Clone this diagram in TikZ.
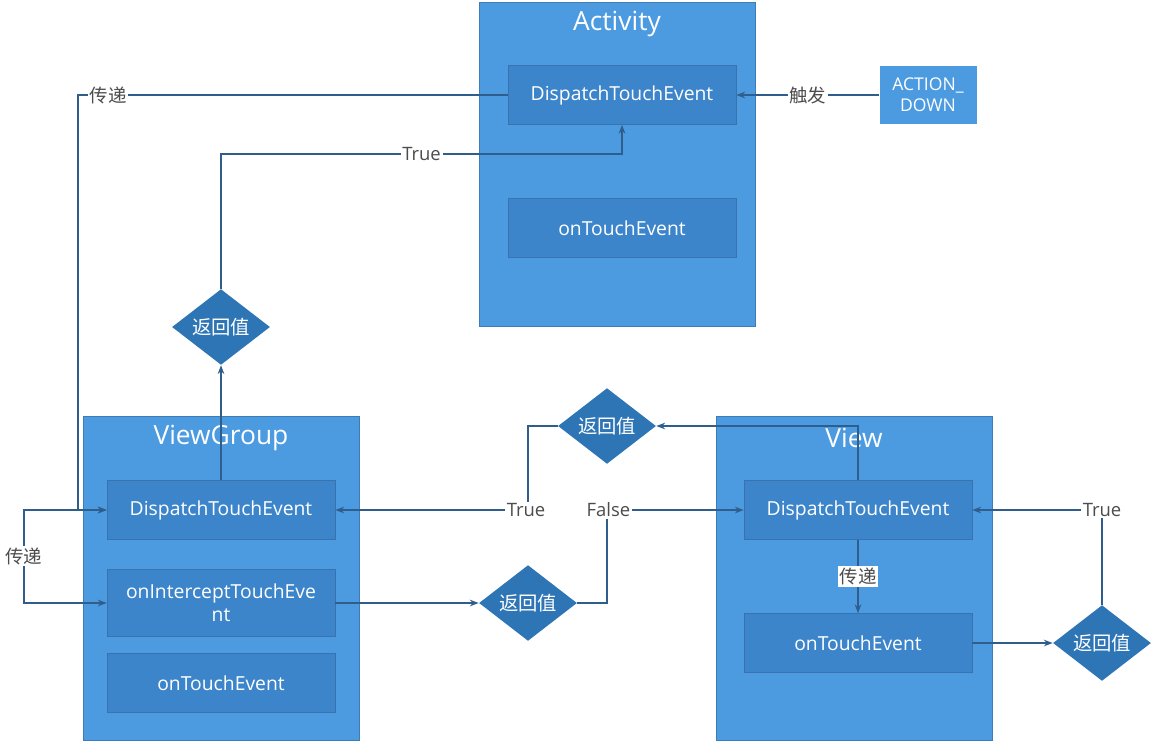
\documentclass[tikz,border=0pt]{standalone}
\usepackage{fontspec}
\setmainfont{Open Sans}
\newfontfamily\cjk{Noto Sans CJK SC}
\usetikzlibrary{shapes.geometric,arrows.meta}
\definecolor{outerblue}{HTML}{4C9BE1}
\definecolor{innerblue}{HTML}{3D85CB}
\definecolor{edgeblue}{HTML}{3A72AE}
\definecolor{linecol}{HTML}{2F5D8C}
\definecolor{diablue}{HTML}{2E75B6}
\tikzset{
  outer/.style={rectangle, fill=outerblue, draw=outerblue!80!black, minimum width=276*0.02cm, minimum height=324*0.02cm},
  inner/.style={rectangle, fill=innerblue, draw=edgeblue, text=white, minimum width=228*0.02cm, minimum height=59*0.02cm, font=\fontsize{11}{13}\selectfont, align=center},
  title/.style={text=white, font=\fontsize{15}{17}\selectfont},
  dia/.style={diamond, fill=diablue, text=white, inner sep=0pt, minimum width=98*0.02cm, minimum height=60*0.02cm, font=\cjk\fontsize{11}{13}\selectfont},
  lab/.style={fill=white, inner sep=1pt, text=black!70, font=\fontsize{10.5}{12}\selectfont},
  arr/.style={thick, draw=linecol, -{Stealth[length=5pt]}},
  ln/.style={thick, draw=linecol}
}
\begin{document}
\begin{tikzpicture}[x=0.02cm,y=-0.02cm]
  \useasboundingbox (0,0) rectangle (1158,755);
  % containers
  \node[outer] (act) at (617,164) {};
  \node[title] at (617,24) {Activity};
  \node[outer] (vg) at (221,578) {};
  \node[title] at (221,438) {ViewGroup};
  \node[outer] (view) at (854,578) {};
  \node[title] at (854,438) {View};
  % methods
  \node[inner] (adisp) at (622,95) {DispatchTouchEvent};
  \node[inner] (atouch) at (622,228) {onTouchEvent};
  \node[rectangle, fill=outerblue, text=white, minimum width=97*0.02cm, minimum height=58*0.02cm, align=center, font=\fontsize{10}{12}\selectfont] (down) at (928,95) {ACTION\_\\DOWN};
  \node[inner] (vgdisp) at (221,510) {DispatchTouchEvent};
  \node[inner, minimum height=67*0.02cm] (vgint) at (221,603) {onInterceptTouchEve\\nt};
  \node[inner] (vgtouch) at (221,683) {onTouchEvent};
  \node[inner] (vdisp) at (858,510) {DispatchTouchEvent};
  \node[inner] (vtouch) at (858,643) {onTouchEvent};
  % decisions
  \node[dia] (ret1) at (221,327) {返回值};
  \node[dia] (ret2) at (607,426) {返回值};
  \node[dia] (ret3) at (528,603) {返回值};
  \node[dia] (ret4) at (1102,643) {返回值};
  \coordinate (split) at (24,556);
  % connectors
  \draw[arr] (down) -- node[lab] {\cjk 触发} (adisp);
  \draw[arr] (adisp.west) -- node[lab, pos=0.93] {\cjk 传递} (78,95) -- (78,510) -- (vgdisp.west);
  \draw[arr] (split) |- (vgdisp.west);
  \draw[arr] (split) |- (vgint.west);
  \node[lab, font=\cjk\fontsize{10.5}{12}\selectfont] at (split) {传递};
  \draw[arr] (vgdisp.north) -- (ret1.south);
  \draw[arr] (ret1.north) |- node[lab, pos=0.75] {True} (622,154) -- (adisp.south);
  \draw[arr] (vgint.east) -- (ret3.west);
  \draw[arr] (ret3.east) -| (607,510) -- node[lab, pos=0.01] {False} (vdisp.west);
  \draw[arr] (vdisp.north) |- (ret2.east);
  \draw[arr] (ret2.west) -| (528,510) -- node[lab, pos=0.01] {True} (vgdisp.east);
  \draw[arr] (vdisp.south) -- node[lab, font=\cjk\fontsize{10.5}{12}\selectfont] {传递} (vtouch.north);
  \draw[arr] (vtouch.east) -- (ret4.west);
  \draw[arr] (ret4.north) |- node[lab, pos=0.5] {True} (vdisp.east);
\end{tikzpicture}
\end{document}
